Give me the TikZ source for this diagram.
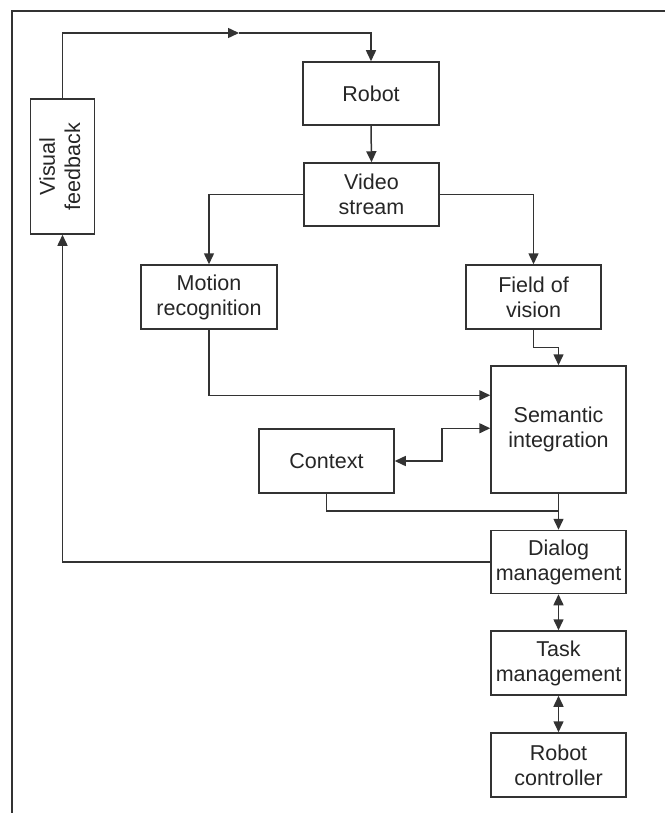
\documentclass[tikz,border=0pt]{standalone}
\usepackage{fontspec}
\setmainfont{Liberation Sans}
\usepackage{graphicx}
\usetikzlibrary{arrows.meta,calc}
\definecolor{ink}{HTML}{262626}
\definecolor{edge}{HTML}{333333}
\tikzset{
  box/.style={draw=edge, line width=1.5pt, fill=white, align=center, inner sep=0pt,
    text=ink, font=\fontsize{21.5}{25}\selectfont},
  conn/.style={draw=edge, line width=1.5pt},
  tip/.style={-{Triangle[length=11pt,width=10pt]}},
  tips/.style={{Triangle[length=11pt,width=10pt]}-{Triangle[length=11pt,width=10pt]}}
}
\begin{document}
\begin{tikzpicture}[x=1pt,y=-1pt]
\useasboundingbox (0,0) rectangle (665,813);
% outer frame (top and left edges)
\draw[conn, line width=1.3pt] (12,813) -- (12,11) -- (665,11);

% blocks
\node[box, minimum width=64pt, minimum height=135pt] (vis) at (62.5,166.5)
  {\rotatebox{90}{\begin{tabular}{@{}c@{}}Visual\\feedback\end{tabular}}};
\node[box, minimum width=136pt, minimum height=63pt] (robot) at (371,93.5) {Robot};
\node[box, minimum width=135pt, minimum height=63pt] (video) at (371.5,194.5) {Video\\stream};
\node[box, minimum width=136pt, minimum height=64pt] (motion) at (209,297) {Motion\\recognition};
\node[box, minimum width=135pt, minimum height=64pt] (field) at (533.5,297) {Field of\\vision};
\node[box, minimum width=135pt, minimum height=127pt] (sem) at (558.5,429.5) {Semantic\\integration};
\node[box, minimum width=135pt, minimum height=64pt] (ctx) at (326.5,461) {Context};
\node[box, minimum width=135pt, minimum height=63pt] (dialog) at (558.5,562) {Dialog\\management};
\node[box, minimum width=135pt, minimum height=64pt] (task) at (558.5,663) {Task\\management};
\node[box, minimum width=135pt, minimum height=64pt] (rc) at (558.5,765) {Robot\\controller};

% helper points on the routes
\coordinate (topmid) at (239,33);
\coordinate (join) at (558.5,511);

% visual feedback loop back to the robot
\draw[conn, tip] (vis.north) |- (topmid);
\draw[conn, tip] (topmid) -| (robot.north);
\draw[conn, tip] (robot.south) -- (video.north);
\draw[conn, tip] (video.west) -| (motion.north);
\draw[conn, tip] (video.east) -| (field.north);
\draw[conn, tip] (field.south) |- ($(field.south)!.5!(sem.north)$) -| (sem.north);
\draw[conn, tip] (motion.south) |- ($(sem.north west)+(0,30)$);
\draw[conn, tips] (ctx.east) -- ++(47,0) |- ($(sem.north west)+(0,63)$);
\draw[conn] (ctx.south) |- (join);
\draw[conn, tip] (sem.south) -- (dialog.north);
\draw[conn, tip] (dialog.west) -| (vis.south);
\draw[conn, tips] (dialog.south) -- (task.north);
\draw[conn, tips] (task.south) -- (rc.north);
\end{tikzpicture}
\end{document}
